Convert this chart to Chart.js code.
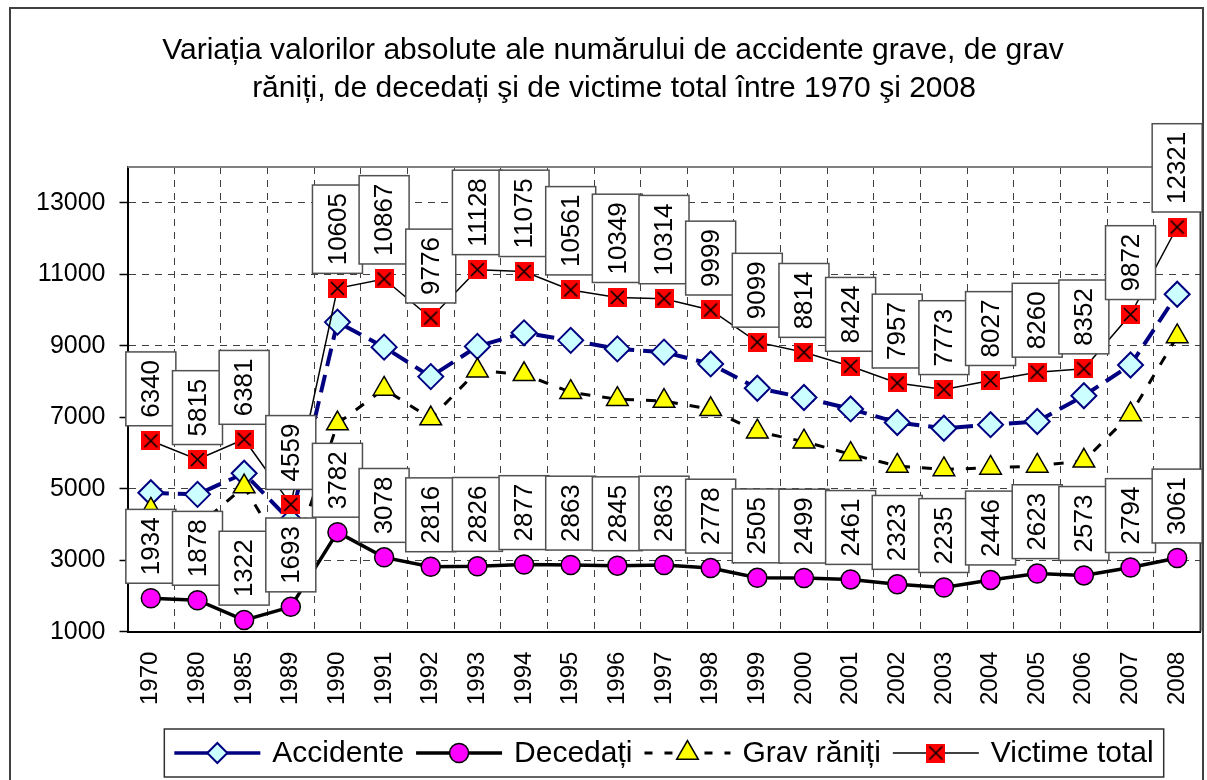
<!DOCTYPE html>
<html>
<head>
<meta charset="utf-8">
<script src="https://cdn.jsdelivr.net/npm/chart.js@4/dist/chart.umd.min.js"></script>
<style>
  html, body { margin: 0; padding: 0; background: #ffffff; overflow: hidden; }
  canvas { display: block; }
</style>
</head>
<body>
<canvas id="accChart" width="1215" height="780"></canvas>
<script>
const years = ['1970', '1980', '1985', '1989', '1990', '1991', '1992', '1993', '1994', '1995', '1996', '1997',
    '1998', '1999', '2000', '2001', '2002', '2003', '2004', '2005', '2006', '2007', '2008'];

const accidente = [4885, 4840, 5430, 4090, 9660, 8960, 8135, 8980, 9360, 9150, 8910, 8820,
    8490, 7810, 7550, 7230, 6850, 6690, 6790, 6880, 7600, 8460, 10440];

const decedati = [1934, 1878, 1322, 1693, 3782, 3078, 2816, 2826, 2877, 2863, 2845, 2863,
    2778, 2505, 2499, 2461, 2323, 2235, 2446, 2623, 2573, 2794, 3061];

const gravRaniti = [4406, 3937, 5059, 2866, 6823, 7789, 6960, 8302, 8198, 7698, 7504, 7451,
    7221, 6594, 6315, 5963, 5634, 5538, 5581, 5637, 5779, 7078, 9260];

const victimeTotal = [6340, 5815, 6381, 4559, 10605, 10867, 9776, 11128, 11075, 10561, 10349, 10314,
    9999, 9099, 8814, 8424, 7957, 7773, 8027, 8260, 8352, 9872, 12321];

const yTicks = [1000, 3000, 5000, 7000, 9000, 11000, 13000];

const titleLines = [
    'Variația valorilor absolute ale numărului de accidente grave, de grav',
    'răniți, de decedați şi de victime total între 1970 şi 2008'
];

const FONT = '"Liberation Sans", Arial, sans-serif';

// red square with a black cross, used as the "Victime total" marker
function crossSquare(size) {
    const c = document.createElement('canvas');
    c.width = size;
    c.height = size;
    const g = c.getContext('2d');
    g.fillStyle = '#ff0000';
    g.fillRect(0, 0, size, size);
    g.strokeStyle = '#000000';
    g.lineWidth = 1.6;
    g.beginPath();
    g.moveTo(3, 3); g.lineTo(size - 3, size - 3);
    g.moveTo(size - 3, 3); g.lineTo(3, size - 3);
    g.stroke();
    return c;
}
const victimeMarker = crossSquare(19);

function drawMarker(ctx, ds, x, y) {
    const r = ds.pointRadius;
    ctx.save();
    ctx.fillStyle = ds.pointBackgroundColor;
    ctx.strokeStyle = ds.pointBorderColor;
    ctx.lineWidth = ds.pointBorderWidth;
    ctx.setLineDash([]);
    ctx.beginPath();
    if (ds.pointStyle === 'rectRot') {
        ctx.moveTo(x - r, y); ctx.lineTo(x, y - r); ctx.lineTo(x + r, y); ctx.lineTo(x, y + r);
        ctx.closePath();
    } else if (ds.pointStyle === 'circle') {
        ctx.arc(x, y, r, 0, Math.PI * 2);
    } else if (ds.pointStyle === 'triangle') {
        ctx.moveTo(x, y - r);
        ctx.lineTo(x + r * Math.sin(2 * Math.PI / 3), y - r * Math.cos(2 * Math.PI / 3));
        ctx.lineTo(x - r * Math.sin(2 * Math.PI / 3), y - r * Math.cos(2 * Math.PI / 3));
        ctx.closePath();
    } else {
        const img = ds.pointStyle;
        ctx.drawImage(img, x - img.width / 2, y - img.height / 2);
        ctx.restore();
        return;
    }
    ctx.fill();
    ctx.stroke();
    ctx.restore();
}

const decorPlugin = {
    id: 'decor',
    beforeDatasetsDraw(chart) {
        const {ctx, chartArea: a} = chart;
        ctx.save();
        ctx.strokeStyle = '#808080';
        ctx.lineWidth = 2;
        ctx.beginPath();
        ctx.moveTo(a.left, a.top); ctx.lineTo(a.right, a.top);
        ctx.stroke();
        ctx.strokeStyle = '#303030';
        ctx.beginPath();
        ctx.moveTo(a.right, a.top); ctx.lineTo(a.right, a.bottom);
        ctx.stroke();
        ctx.restore();
    },
    afterDatasetsDraw(chart) {
        // value boxes for Victime total and Decedați
        const {ctx} = chart;
        ctx.save();
        ctx.font = '26px ' + FONT;
        [3, 1].forEach(di => {
            const meta = chart.getDatasetMeta(di);
            const values = chart.data.datasets[di].data;
            meta.data.forEach((pt, i) => {
                const txt = String(values[i]);
                const tw = ctx.measureText(txt).width;
                const w = 50, h = tw + 16;
                const bx = pt.x - w / 2, by = pt.y - 15 - h;
                ctx.fillStyle = '#ffffff';
                ctx.fillRect(bx, by, w, h);
                ctx.strokeStyle = '#505050';
                ctx.lineWidth = 1.5;
                ctx.strokeRect(bx, by, w, h);
                ctx.save();
                ctx.translate(pt.x, by + h / 2);
                ctx.rotate(-Math.PI / 2);
                ctx.fillStyle = '#000000';
                ctx.textAlign = 'center';
                ctx.textBaseline = 'middle';
                ctx.fillText(txt, 0, 1);
                ctx.restore();
            });
        });
        ctx.restore();
    },
    afterDraw(chart) {
        const {ctx, chartArea: a} = chart;
        ctx.save();
        // outer frame
        ctx.strokeStyle = '#404040';
        ctx.lineWidth = 2;
        ctx.strokeRect(10, 8, 1193, 800);

        // title
        ctx.fillStyle = '#000000';
        ctx.font = '30px ' + FONT;
        ctx.textAlign = 'center';
        ctx.textBaseline = 'middle';
        ctx.fillText(titleLines[0], 613, 51);
        ctx.fillText(titleLines[1], 614, 89);

        // legend
        const sets = chart.data.datasets;
        ctx.font = '30px ' + FONT;
        const sampleW = 86, gapS = 12, gapT = 12, padX = 10;
        const widths = sets.map(ds => ctx.measureText(ds.label).width);
        let total = padX * 2 + gapT * (sets.length - 1);
        widths.forEach(w => { total += sampleW + gapS + w; });
        const left = (a.left + a.right) / 2 - total / 2;
        const top = 729, boxH = 48, cy = top + boxH / 2;
        ctx.strokeStyle = '#303030';
        ctx.lineWidth = 1.5;
        ctx.strokeRect(left, top, total, boxH);
        let x = left + padX;
        sets.forEach((ds, i) => {
            ctx.save();
            ctx.strokeStyle = ds.borderColor;
            ctx.lineWidth = Math.min(ds.borderWidth, 3.5);
            ctx.setLineDash(ds.legendDash || []);
            ctx.beginPath();
            ctx.moveTo(x, cy); ctx.lineTo(x + sampleW, cy);
            ctx.stroke();
            ctx.restore();
            drawMarker(ctx, Object.assign({}, ds, {pointRadius: ds.legendRadius}), x + sampleW / 2, cy);
            x += sampleW + gapS;
            ctx.fillStyle = '#000000';
            ctx.textAlign = 'left';
            ctx.fillText(ds.label, x, cy + 1);
            x += widths[i] + gapT;
        });
        ctx.restore();
    }
};

new Chart(document.getElementById('accChart').getContext('2d'), {
    type: 'line',
    data: {
        labels: years,
        datasets: [
            {
                label: 'Accidente',
                data: accidente,
                borderColor: '#000080',
                borderWidth: 4,
                borderDash: [18, 9],
                legendDash: [],
                pointStyle: 'rectRot',
                pointRadius: 12.5,
                legendRadius: 10,
                pointBackgroundColor: '#ccffff',
                pointBorderColor: '#000080',
                pointBorderWidth: 2,
                order: 3
            },
            {
                label: 'Decedați',
                data: decedati,
                borderColor: '#000000',
                borderWidth: 3.5,
                pointStyle: 'circle',
                pointRadius: 9.5,
                legendRadius: 9.5,
                pointBackgroundColor: '#ff00ff',
                pointBorderColor: '#000000',
                pointBorderWidth: 1.5,
                order: 2
            },
            {
                label: 'Grav răniți',
                data: gravRaniti,
                borderColor: '#000000',
                borderWidth: 3,
                borderDash: [10, 12],
                legendDash: [8, 12],
                pointStyle: 'triangle',
                pointRadius: 12.5,
                legendRadius: 12.5,
                pointBackgroundColor: '#ffff00',
                pointBorderColor: '#000000',
                pointBorderWidth: 1.5,
                order: 1
            },
            {
                label: 'Victime total',
                data: victimeTotal,
                borderColor: '#000000',
                borderWidth: 1.5,
                pointStyle: victimeMarker,
                pointRadius: 9.5,
                legendRadius: 9.5,
                pointBackgroundColor: '#ff0000',
                pointBorderColor: '#000000',
                pointBorderWidth: 1,
                order: 0
            }
        ]
    },
    options: {
        responsive: false,
        animation: false,
        layout: { padding: { left: 22, right: 0, top: 167, bottom: 55 } },
        plugins: {
            legend: { display: false },
            title: { display: false },
            tooltip: { enabled: false }
        },
        scales: {
            x: {
                offset: true,
                afterFit: axis => { axis.paddingLeft = 0; axis.paddingRight = 0; },
                grid: {
                    offset: true,
                    drawTicks: false,
                    color: '#404040',
                    lineWidth: 1,
                    borderDash: [7, 6]
                },
                border: { display: true, color: '#000000', width: 2, dash: [7, 6] },
                ticks: {
                    color: '#000000',
                    font: { family: FONT, size: 24 },
                    minRotation: 90,
                    maxRotation: 90,
                    padding: 20,
                    autoSkip: false
                }
            },
            y: {
                min: 1000,
                max: 14000,
                afterBuildTicks: axis => { axis.ticks = yTicks.map(v => ({ value: v })); },
                grid: {
                    color: '#404040',
                    lineWidth: 1,
                    borderDash: [7, 6],
                    tickLength: 8,
                    tickColor: '#000000',
                    tickWidth: 1.5,
                    tickBorderDash: [1, 0]
                },
                border: { display: true, color: '#000000', width: 2, dash: [7, 6] },
                ticks: {
                    color: '#000000',
                    font: { family: FONT, size: 25 },
                    padding: 14,
                    callback: v => String(v)
                }
            }
        }
    },
    plugins: [decorPlugin]
});
</script>
</body>
</html>
